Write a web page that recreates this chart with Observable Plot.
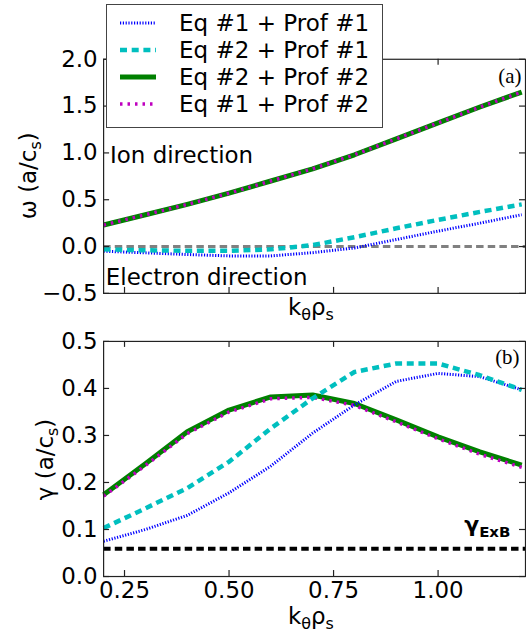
<!DOCTYPE html>
<html><head><meta charset="utf-8">
<script src="https://cdn.jsdelivr.net/npm/d3@7"></script>
<script src="https://cdn.jsdelivr.net/npm/@observablehq/plot@0.6"></script>
<style>
body{margin:0;background:#fff;}
#wrap{position:relative;width:526px;height:635px;overflow:hidden;font-family:"DejaVu Sans";background:#fff;}
#wrap > svg{position:absolute;left:0;}
#legend{position:absolute;left:106px;top:3.5px;width:275px;height:122px;border:1.5px solid #444;background:#fff;box-sizing:content-box;}
#legend .row{position:absolute;left:0;height:28px;width:275px;}
#legend .row svg{position:absolute;left:13px;top:9px;}
#legend .row span{position:absolute;left:72px;top:0;line-height:28px;font-size:23px;color:#000;white-space:nowrap;}
</style></head>
<body>
<div id="wrap"><div id="legend"></div></div>
<script>
// ---- data ----
const k = [0.2, 0.3, 0.4, 0.5, 0.6, 0.7, 0.8, 0.9, 1.0, 1.1, 1.2];
// panel (a): real frequency omega (a/c_s)
const omegaEq1Prof1 = [-0.05, -0.067, -0.085, -0.10, -0.10, -0.065, -0.015, 0.075, 0.165, 0.25, 0.34];
const omegaEq2Prof1 = [-0.03, -0.04, -0.045, -0.045, -0.03, 0.015, 0.10, 0.195, 0.285, 0.37, 0.45];
const omegaEq2Prof2 = [0.23, 0.34, 0.45, 0.57, 0.70, 0.83, 0.98, 1.15, 1.32, 1.49, 1.65];
const omegaEq1Prof2 = [0.23, 0.34, 0.45, 0.57, 0.70, 0.83, 0.98, 1.15, 1.32, 1.49, 1.65];
// panel (b): growth rate gamma (a/c_s)
const gammaEq1Prof1 = [0.075, 0.10, 0.13, 0.178, 0.235, 0.305, 0.365, 0.415, 0.432, 0.425, 0.397];
const gammaEq2Prof1 = [0.103, 0.145, 0.188, 0.244, 0.315, 0.379, 0.435, 0.453, 0.453, 0.428, 0.397];
const gammaEq2Prof2 = [0.174, 0.24, 0.308, 0.354, 0.382, 0.386, 0.368, 0.333, 0.297, 0.265, 0.237];
const gammaEq1Prof2 = [0.171, 0.236, 0.304, 0.35, 0.378, 0.381, 0.364, 0.329, 0.293, 0.26, 0.232];
const gammaExB = 0.059;
const zeroLine = 0;
// ticks
const xTicks = [0.25, 0.5, 0.75, 1.0];
const omegaTicks = [-0.5, 0.0, 0.5, 1.0, 1.5, 2.0];
const gammaTicks = [0.0, 0.1, 0.2, 0.3, 0.4, 0.5];
const seriesNames = ["Eq #1 + Prof #1", "Eq #2 + Prof #1", "Eq #2 + Prof #2", "Eq #1 + Prof #2"];

// ---- styles ----
const styles = [
  {stroke: "#0000ff", strokeWidth: 3, strokeDasharray: "1.2,1.6"},
  {stroke: "#00bfbf", strokeWidth: 4.5, strokeDasharray: "7,4.7"},
  {stroke: "#008000", strokeWidth: 5, strokeDasharray: null},
  {stroke: "#bf00bf", strokeWidth: 3.5, strokeDasharray: "2.5,5"}
];
const drawOrder = [2, 3, 0, 1];

const X0 = 103.5, X1 = 527, plotW = X1 - X0, tick = 6;
const xDomain = [0.2, 0.2 + plotW / 419.7];

function rows(ys) { return k.map((x, i) => ({x, y: ys[i]})); }

function panel({series, yDomain, yTicks, height, marginTop, marginBottom, extra, xLabels}) {
  const plotH = height - marginTop - marginBottom;
  return Plot.plot({
    width: 528, height, marginLeft: X0, marginRight: 528 - X1, marginTop, marginBottom,
    style: {fontFamily: "DejaVu Sans", fontSize: "23px", background: "transparent", overflow: "visible", color: "#000"},
    x: {domain: xDomain, range: [X0, X1]},
    y: {domain: yDomain},
    marks: [
      ...extra.before,
      ...drawOrder.map(i => Plot.line(rows(series[i]), {x: "x", y: "y", ...styles[i], strokeLinecap: "butt", strokeLinejoin: "round"})),
      ...extra.after,
      Plot.frame({stroke: "#222", strokeWidth: 1.2}),
      Plot.tickY(yTicks, {y: d => d, insetRight: plotW - tick, stroke: "#222", strokeWidth: 1.2}),
      Plot.tickY(yTicks, {y: d => d, insetLeft: plotW - tick, stroke: "#222", strokeWidth: 1.2}),
      Plot.tickX(xTicks, {x: d => d, insetBottom: plotH - tick, stroke: "#222", strokeWidth: 1.2}),
      Plot.tickX(xTicks, {x: d => d, insetTop: plotH - tick, stroke: "#222", strokeWidth: 1.2}),
      Plot.axisY(yTicks, {tickSize: 0, tickPadding: 6, tickFormat: d3.format(".1f"), label: null, fontSize: 23}),
      xLabels
        ? Plot.axisX(xTicks, {tickSize: 0, tickPadding: 5, tickFormat: d3.format(".2f"), label: null, fontSize: 23})
        : Plot.axisX(xTicks, {tickSize: 0, tickFormat: () => "", label: null})
    ]
  });
}

const wrap = document.getElementById("wrap");

const topSvg = panel({
  series: [omegaEq1Prof1, omegaEq2Prof1, omegaEq2Prof2, omegaEq1Prof2],
  yDomain: [-0.5, 2.0], yTicks: omegaTicks, height: 320, marginTop: 59, marginBottom: 26, xLabels: false,
  extra: {
    before: [Plot.ruleY([zeroLine], {stroke: "#808080", strokeWidth: 3, strokeDasharray: "7.5,4.2"})],
    after: [
      Plot.text(["Ion direction"], {frameAnchor: "top-left", textAnchor: "start", dx: 6.5, dy: 88, fontSize: 23, fill: "#000"}),
      Plot.text(["Electron direction"], {frameAnchor: "top-left", textAnchor: "start", dx: 2.2, dy: 210, fontSize: 23, fill: "#000"}),
      Plot.text(["(a)"], {frameAnchor: "top-right", textAnchor: "end", dx: -4, dy: 9, fontSize: 21, fontFamily: "Liberation Serif", fill: "#000"})
    ]
  }
});
topSvg.style.top = "0px";
wrap.insertBefore(topSvg, document.getElementById("legend"));

const botSvg = panel({
  series: [gammaEq1Prof1, gammaEq2Prof1, gammaEq2Prof2, gammaEq1Prof2],
  yDomain: [0, 0.5], yTicks: gammaTicks, height: 315, marginTop: 21, marginBottom: 58, xLabels: true,
  extra: {
    before: [Plot.ruleY([gammaExB], {stroke: "#000", strokeWidth: 4, strokeDasharray: "7.5,4.2"})],
    after: [
      Plot.text(["(b)"], {frameAnchor: "top-right", textAnchor: "end", dx: -6, dy: 8, fontSize: 21, fontFamily: "Liberation Serif", fill: "#000"})
    ]
  }
});
botSvg.style.top = "320px";
wrap.appendChild(botSvg);

// axis labels with subscripts
function kLabel(svg, y) {
  const t = d3.select(svg).append("text").attr("x", 312).attr("y", y).attr("text-anchor", "middle")
    .attr("font-family", "DejaVu Sans").attr("font-size", 23).attr("fill", "#000");
  t.append("tspan").text("k");
  t.append("tspan").attr("font-size", 16).attr("dy", 5).text("θ");
  t.append("tspan").attr("dy", -5).text("ρ");
  t.append("tspan").attr("font-size", 16).attr("dy", 5).text("s");
}
function yLabel(svg, x, y, sym) {
  const t = d3.select(svg).append("text").attr("transform", `translate(${x},${y}) rotate(-90)`)
    .attr("text-anchor", "middle").attr("font-family", "DejaVu Sans").attr("font-size", 23).attr("fill", "#000");
  t.append("tspan").text(sym + " (a/c");
  t.append("tspan").attr("font-size", 16).attr("dy", 5).text("s");
  t.append("tspan").attr("dy", -5).text(")");
}
kLabel(topSvg, 316.5);
kLabel(botSvg, 305);
yLabel(topSvg, 36, 176.5, "ω");
yLabel(botSvg, 53, 140, "γ");
{
  const t = d3.select(botSvg).append("text").attr("x", 466).attr("y", 213).attr("text-anchor", "start")
    .attr("font-family", "DejaVu Sans").attr("font-weight", "bold").attr("font-size", 22).attr("fill", "#000");
  t.append("tspan").text("γ");
  t.append("tspan").attr("font-size", 15).attr("dy", 5).text("ExB");
}

// legend
const legend = document.getElementById("legend");
seriesNames.forEach((name, i) => {
  const row = document.createElement("div");
  row.className = "row";
  row.style.top = (4 + i * 27.3) + "px";
  const s = styles[i];
  row.innerHTML = `<svg width="36" height="10"><line x1="0" x2="36" y1="5" y2="5" stroke="${s.stroke}" stroke-width="${s.strokeWidth}" ${s.strokeDasharray ? `stroke-dasharray="${s.strokeDasharray}"` : ""}/></svg><span>${name}</span>`;
  legend.appendChild(row);
});
</script>
</body></html>
